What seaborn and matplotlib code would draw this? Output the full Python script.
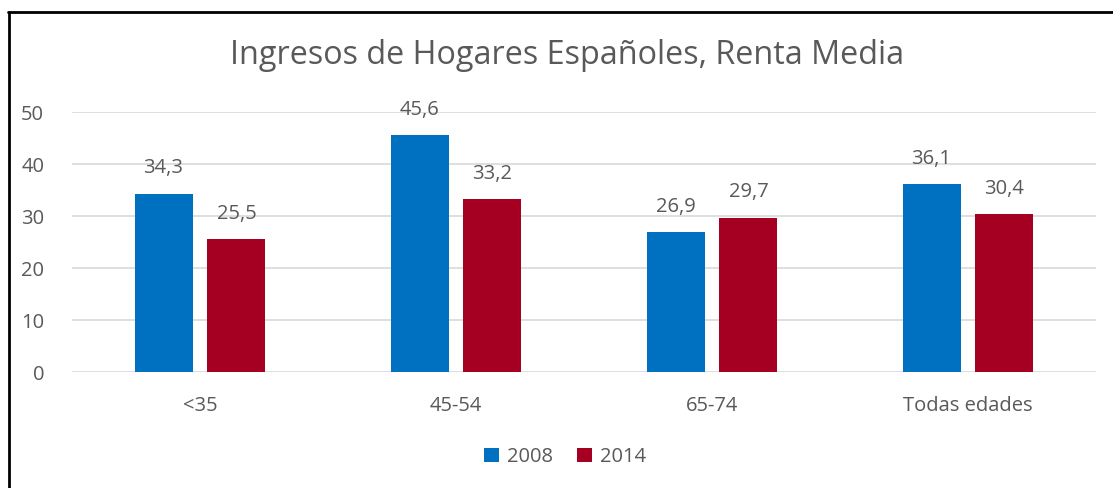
import pandas as pd
import numpy as np
import matplotlib
matplotlib.use('Agg')
import matplotlib.pyplot as plt
import seaborn as sns
from matplotlib.lines import Line2D
from matplotlib.patches import Patch

# ── Data ──────────────────────────────────────────────
categories = ['<35', '45-54', '65-74', 'Todas edades']
years = ['2008', '2014']
renta_2008 = [34.3, 45.6, 26.9, 36.1]
renta_2014 = [25.5, 33.2, 29.7, 30.4]
colors = ['#0070C0', '#A50021']
text_grey = '#595959'

df = pd.DataFrame({
    'edad': categories * 2,
    'year': [years[0]] * 4 + [years[1]] * 4,
    'renta': renta_2008 + renta_2014,
})

sns.set_style('white')
plt.rcParams['font.family'] = ['Open Sans', 'DejaVu Sans']

fig = plt.figure(figsize=(11.13, 4.88), dpi=100)
ax = fig.add_axes([72 / 1113, 116 / 488, 1024 / 1113, 260 / 488])

sns.barplot(data=df, x='edad', y='renta', hue='year', order=categories,
            hue_order=years, palette=colors, width=0.57, gap=0.205,
            saturation=1, linewidth=0, ax=ax, legend=False)

ax.set_ylim(0, 50)
ax.set_yticks([0, 10, 20, 30, 40, 50])
ax.yaxis.grid(True, color='#D9D9D9', linewidth=1.2)
ax.set_axisbelow(True)
for s in ax.spines.values():
    s.set_visible(False)
ax.tick_params(axis='both', length=0, labelsize=14.5, colors=text_grey)
ax.tick_params(axis='y', pad=20)
ax.tick_params(axis='x', pad=17)
ax.set_xlabel('')
ax.set_ylabel('')

# data labels with comma decimals
for cont in ax.containers:
    for bar in cont:
        h = bar.get_height()
        ax.annotate(f'{h:.1f}'.replace('.', ','),
                    (bar.get_x() + bar.get_width() / 2, h),
                    xytext=(0, 11), textcoords='offset points',
                    ha='center', va='bottom', fontsize=14.5, color=text_grey)

fig.text(567 / 1113, 1 - 56 / 488, 'Ingresos de Hogares Españoles, Renta Media',
         ha='center', va='center', fontsize=23.3, color=text_grey)

handles = [Patch(facecolor=c, edgecolor='none') for c in colors]
fig.legend(handles, years, loc='center', bbox_to_anchor=(565 / 1113, 1 - 457 / 488),
           ncol=2, frameon=False, fontsize=14.5, labelcolor=text_grey,
           handlelength=0.75, handleheight=0.75, handletextpad=0.4, columnspacing=1.2)

# outer chart frame (left and top visible only)
fig.add_artist(Line2D([9 / 1113, 9 / 1113], [0, 1 - 12 / 488], color='black',
                      linewidth=2, transform=fig.transFigure))
fig.add_artist(Line2D([8 / 1113, 1], [1 - 12 / 488, 1 - 12 / 488], color='black',
                      linewidth=2, transform=fig.transFigure))

plt.savefig('out.png', dpi=100)
plt.close()
